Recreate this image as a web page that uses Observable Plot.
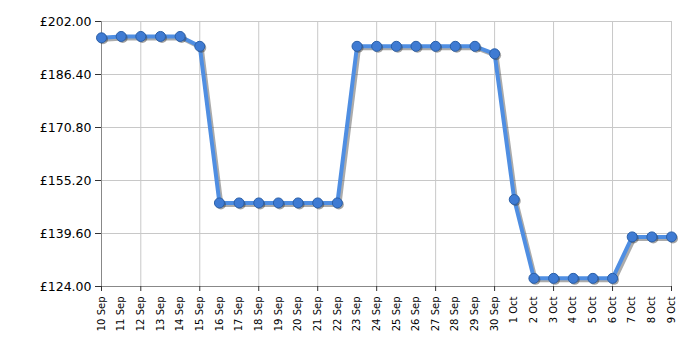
<!DOCTYPE html>
<html>
<head>
<meta charset="utf-8">
<script src="https://cdn.jsdelivr.net/npm/d3@7"></script>
<script src="https://cdn.jsdelivr.net/npm/@observablehq/plot@0.6"></script>
<style>
  html, body { margin: 0; padding: 0; background: #fff; }
  #chart { width: 700px; height: 350px; }
</style>
</head>
<body>
<div id="chart"></div>
<script>
const dates = ["10 Sep","11 Sep","12 Sep","13 Sep","14 Sep","15 Sep","16 Sep","17 Sep","18 Sep","19 Sep",
  "20 Sep","21 Sep","22 Sep","23 Sep","24 Sep","25 Sep","26 Sep","27 Sep","28 Sep","29 Sep","30 Sep",
  "1 Oct","2 Oct","3 Oct","4 Oct","5 Oct","6 Oct","7 Oct","8 Oct","9 Oct"];
const prices = [197.2, 197.6, 197.6, 197.6, 197.6, 194.7,
  148.6, 148.6, 148.6, 148.6, 148.6, 148.6, 148.6,
  194.7, 194.7, 194.7, 194.7, 194.7, 194.7, 194.7,
  192.5, 149.6,
  126.4, 126.4, 126.4, 126.4, 126.4,
  138.6, 138.6, 138.6];
const gridDates = ["10 Sep","12 Sep","15 Sep","18 Sep","21 Sep","24 Sep","27 Sep","30 Sep","3 Oct","6 Oct","9 Oct"];
const yTicks = [124, 139.6, 155.2, 170.8, 186.4, 202];

const data = dates.map((d, i) => ({date: d, price: prices[i]}));

const chart = Plot.plot({
  width: 700,
  height: 350,
  marginLeft: 101,
  marginRight: 29,
  marginTop: 21,
  marginBottom: 64,
  style: {fontFamily: "DejaVu Sans, Verdana, sans-serif", background: "#fff", color: "#000"},
  x: {type: "point", domain: dates, padding: 0, round: false, axis: null, label: null},
  y: {domain: [124, 202], axis: null, label: null},
  marks: [
    Plot.ruleY(yTicks, {stroke: "#c8c8c8", strokeWidth: 1}),
    Plot.ruleX(gridDates, {stroke: "#c8c8c8", strokeWidth: 1}),
    Plot.ruleX([dates[0]], {stroke: "#888", strokeWidth: 1}),
    Plot.ruleY([124], {stroke: "#888", strokeWidth: 1}),
    Plot.axisY(yTicks, {tickFormat: d => "£" + d.toFixed(2), tickSize: 6, tickPadding: 4, fontSize: 12.5, stroke: "#333", label: null}),
    Plot.axisX(gridDates, {tickSize: 5, tickFormat: () => "", stroke: "#333", label: null}),
    Plot.text(dates, {x: d => d, frameAnchor: "bottom", rotate: -90, textAnchor: "end", lineAnchor: "middle", dy: 10, fontSize: 10, fill: "#000"}),
    Plot.line(data, {x: "date", y: "price", stroke: "#444", strokeOpacity: 0.45, strokeWidth: 4, dx: 2, dy: 2, strokeLinejoin: "round"}),
    Plot.line(data, {x: "date", y: "price", stroke: "#4f8ee2", strokeWidth: 4, strokeLinejoin: "round"}),
    Plot.dot(data, {x: "date", y: "price", r: 5, fill: "#333", fillOpacity: 0.45, dx: 1.5, dy: 1.5}),
    Plot.dot(data, {x: "date", y: "price", r: 5, fill: "#3f7bd3", stroke: "#2a5fa8", strokeWidth: 1})
  ]
});
document.getElementById("chart").appendChild(chart);
</script>
</body>
</html>
